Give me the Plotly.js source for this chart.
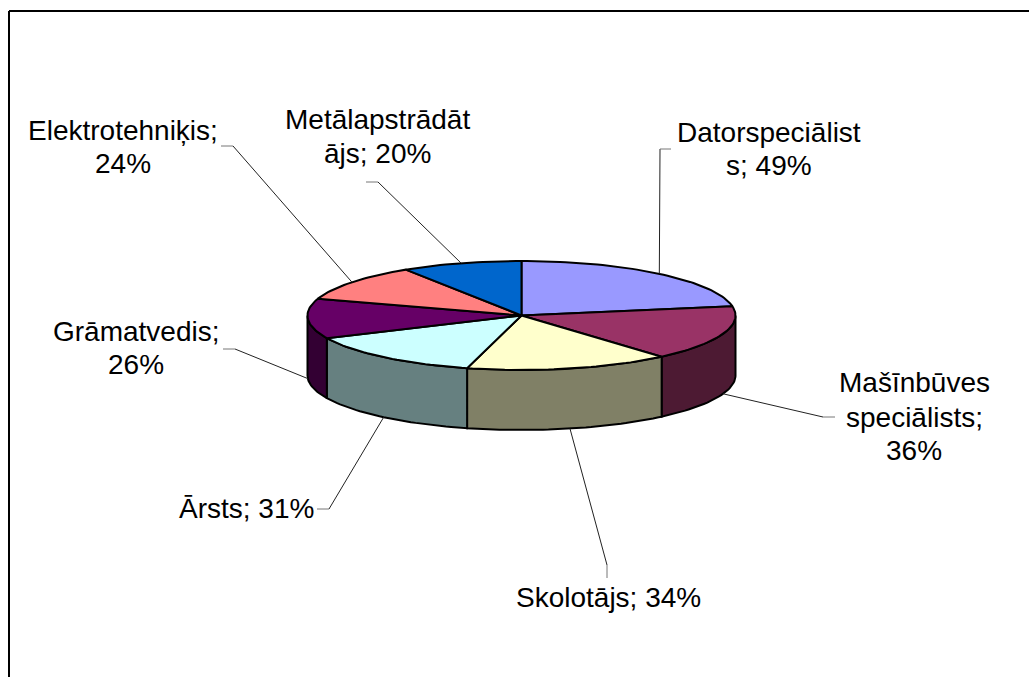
<!DOCTYPE html>
<html>
<head>
<meta charset="utf-8">
<script src="https://cdn.plot.ly/plotly-3.0.1.min.js"></script>
<style>html,body{margin:0;padding:0;background:#fff}#c{width:1029px;height:677px}</style>
</head>
<body>
<div id="c"></div>
<script>
// Data
var categories = ["Datorspeciālists","Mašīnbūves speciālists","Skolotājs","Ārsts","Grāmatvedis","Elektrotehniķis","Metālapstrādātājs"];
var values = [49,36,34,31,26,24,20];
var labelLines = [
  ["Datorspeciālist","s; 49%"],
  ["Mašīnbūves","speciālists;","36%"],
  ["Skolotājs; 34%"],
  ["Ārsts; 31%"],
  ["Grāmatvedis;","26%"],
  ["Elektrotehniķis;","24%"],
  ["Metālapstrādāt","ājs; 20%"]
];
// Styles
var topColors  = ["#9999FF","#993366","#FFFFCC","#CCFFFF","#660066","#FF8080","#0066CC"];
var sideColors = ["#4D4D80","#4D1A33","#808066","#668080","#330033","#804040","#003366"];
// Layout geometry (pixels)
var cx=521.5, cy=315.5, rx=214, ry=54.5, depth=60;
var labelX = [769,914,608,246,136,122.5,377];
var labelY = [[132,165],[382,417,450],[597],[508],[331,364],[130,163],[119,153]];
var elbowA = [[660,149],[823,417],[607,565],[329,509],[235,349],[233,146],[378,182]];
var elbowB = [[671,149],[835,417],[607,578],[317,509],[223,349],[221,146],[366,182]];

function px(t){return cx+rx*Math.sin(t*Math.PI/180);}
function py(t,d){return cy-ry*Math.cos(t*Math.PI/180)+(d||0);}
function arc(a,b,d){
  var xs=[],ys=[],n=Math.max(2,Math.ceil(Math.abs(b-a)/1.5));
  for(var i=0;i<=n;i++){var t=a+(b-a)*i/n;xs.push(px(t));ys.push(py(t,d));}
  return [xs,ys];
}
var total=values.reduce(function(s,v){return s+v;},0);
var traces=[],shapes=[],annotations=[];
var edges=[0];
values.forEach(function(v,i){edges.push(edges[i]+v/total*360);});

// Visible outer walls (front half of the disc)
values.forEach(function(v,i){
  var a=Math.max(edges[i],90), b=Math.min(edges[i+1],270);
  if(b<=a) return;
  var t=arc(a,b,0), w=arc(b,a,depth);
  traces.push({type:"scatter",mode:"lines",x:t[0].concat(w[0],[t[0][0]]),y:t[1].concat(w[1],[t[1][0]]),
    fill:"toself",fillcolor:sideColors[i],line:{color:"#000",width:2},hoverinfo:"skip",showlegend:false});
});
// Top faces
values.forEach(function(v,i){
  var t=arc(edges[i],edges[i+1],0);
  traces.push({type:"scatter",mode:"lines",x:[cx].concat(t[0],[cx]),y:[cy].concat(t[1],[cy]),
    fill:"toself",fillcolor:topColors[i],line:{color:"#000",width:2},name:categories[i],
    text:categories[i]+"; "+Math.round(v)+"%",hoverinfo:"text",showlegend:false});
});
// Leader lines, from each slice's rim midpoint to its label
values.forEach(function(v,i){
  var m=(edges[i]+edges[i+1])/2;
  var front=m>90&&m<270;
  var ax=px(m), ay=py(m,front?depth:0);
  traces.push({type:"scatter",mode:"lines",x:[ax,elbowA[i][0]],y:[ay,elbowA[i][1]],
    line:{color:"#222",width:1},hoverinfo:"skip",showlegend:false});
  traces.push({type:"scatter",mode:"lines",x:[elbowA[i][0],elbowB[i][0]],y:[elbowA[i][1],elbowB[i][1]],
    line:{color:"#777",width:1},hoverinfo:"skip",showlegend:false});
  labelLines[i].forEach(function(s,k){
    annotations.push({x:labelX[i],y:labelY[i][k],xref:"x",yref:"y",text:s,showarrow:false,
      xanchor:"center",yanchor:"middle",font:{family:"Liberation Sans, Arial, sans-serif",size:28,color:"#000"}});
  });
});
// Chart-area frame (top and left edges show in the crop)
shapes.push({type:"line",xref:"x",yref:"y",x0:9,y0:11,x1:1029,y1:11,line:{color:"#000",width:2}});
shapes.push({type:"line",xref:"x",yref:"y",x0:9,y0:11,x1:9,y1:677,line:{color:"#000",width:2}});

Plotly.newPlot("c",traces,{
  width:1029,height:677,margin:{l:0,r:0,t:0,b:0},
  paper_bgcolor:"#fff",plot_bgcolor:"#fff",showlegend:false,
  xaxis:{range:[0,1029],visible:false,fixedrange:true},
  yaxis:{range:[677,0],visible:false,fixedrange:true},
  shapes:shapes,annotations:annotations
},{displayModeBar:false});
</script>
</body>
</html>
